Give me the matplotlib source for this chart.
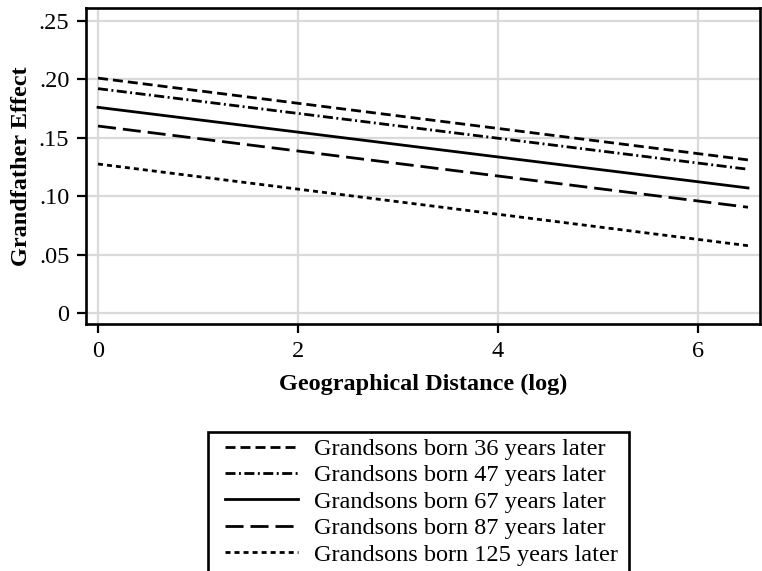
import matplotlib
matplotlib.use("Agg")
import matplotlib.pyplot as plt
from matplotlib.patches import Rectangle

# fitted lines: value at distance 0 and at 6.5
x_ends = [0, 6.5]
labels = ["Grandsons born 36 years later", "Grandsons born 47 years later",
          "Grandsons born 67 years later", "Grandsons born 87 years later",
          "Grandsons born 125 years later"]
y36 = [0.201, 0.131]
y47 = [0.192, 0.123]
y67 = [0.176, 0.107]
y87 = [0.160, 0.0905]
y125 = [0.1275, 0.0576]
yticks = [0, 0.05, 0.10, 0.15, 0.20, 0.25]
ytick_labels = ["0", ".05", ".10", ".15", ".20", ".25"]
xticks = [0, 2, 4, 6]

plt.rcParams["font.family"] = ["Liberation Serif", "DejaVu Serif"]
FS = 17.5
W, H = 762, 571

fig = plt.figure(figsize=(W / 100, H / 100), dpi=100)
ax = fig.add_axes([0.1129, 0.4326, 0.8845, 0.5534])

# dash patterns are in units of line width
styles = [(0, (3.6, 1.8)), (0, (3.6, 1.25, 0.7, 1.25)), "-",
          (0, (6.5, 2.5)), (0, (1.8, 1.45))]
for ys, lab, ls in zip([y36, y47, y67, y87, y125], labels, styles):
    ax.plot(x_ends, ys, color="black", lw=2.0, linestyle=ls, label=lab)

ax.set_xlim(-0.12, 6.62)
ax.set_ylim(-0.0094, 0.261)
ax.set_yticks(yticks)
ax.set_yticklabels(ytick_labels)
ax.set_xticks(xticks)
ax.grid(True, color="#dadada", lw=1.6)
ax.set_axisbelow(True)
for sp in ax.spines.values():
    sp.set_linewidth(1.9)
ax.tick_params(direction="out", length=6.5, width=1.6, labelsize=FS, pad=5.5)
ax.set_ylabel("Grandfather Effect", fontsize=FS, fontweight="bold", labelpad=5)
ax.set_xlabel("Geographical Distance (log)", fontsize=FS, fontweight="bold", labelpad=9)

# legend box runs off the bottom of the figure, so draw its frame by hand
fig.patches.append(Rectangle((208 / W, -0.1), (629 - 208) / W, 1 - 432 / H + 0.1,
                             transform=fig.transFigure, fill=False,
                             edgecolor="black", lw=1.9))
fig.legend(loc="upper left", bbox_to_anchor=(225 / W, 1 - 438 / H),
           fontsize=FS, handlelength=3.0, frameon=False,
           labelspacing=0.18, borderpad=0, handletextpad=0.65, borderaxespad=0)

fig.savefig("out.png", dpi=100)
